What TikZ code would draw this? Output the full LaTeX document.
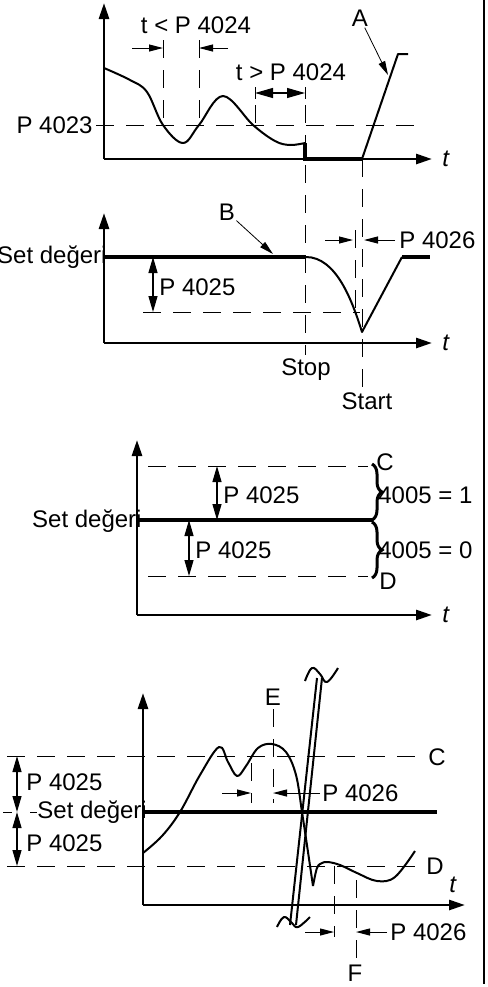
\documentclass[tikz,border=0pt]{standalone}
\usepackage{fontspec}
\setmainfont{Liberation Sans}
\usepackage{tikz}
\usetikzlibrary{arrows.meta,positioning,decorations.pathreplacing}

\begin{document}
\begin{tikzpicture}[x=0.5pt,y=-0.5pt,
 lbl/.style={inner sep=0.5pt,font=\fontsize{12}{14}\selectfont},
 ax/.style={line width=1.35pt,-{Triangle[length=8pt,width=5pt]}},
 dim/.style={line width=0.5pt,-{Triangle[length=7pt,width=3.5pt]}},
 bidim/.style={line width=0.6pt,{Triangle[length=8pt,width=4.5pt]}-{Triangle[length=8pt,width=4.5pt]}},
 ptr/.style={line width=0.4pt,-{Triangle[length=7pt,width=3.5pt]}},
 dsh/.style={line width=0.5pt,dash pattern=on 9pt off 6pt},
 crv/.style={line width=1pt,line join=round},
 sp/.style={line width=1.7pt},
 brc/.style={line width=1.5pt,decorate,decoration={brace,amplitude=5pt}}]
\useasboundingbox (0,0) rectangle (488,987);
\draw[line width=1pt] (483.5,0) -- (483.5,984);

% --- panel 1: sleep level
\coordinate (o1) at (104,159);
\draw[dsh] (96,125) -- (418,125);
\node[lbl,anchor=east] (p4023) at (94,125) {P 4023};
\draw[dsh] (163,40) -- (163,125); \draw[dsh] (199,40) -- (199,125);
\draw[dim] (132,48) -- (163,48); \draw[dim] (228,48) -- (199,48);
\node[lbl] (tlt) at (196,25) {t < P 4024};
\node[lbl] (tgt) at (291,72) {t > P 4024};
\draw[bidim,{Triangle[length=9pt,width=5pt]}-{Triangle[length=9pt,width=5pt]}] (255,93) -- (305,93);
\draw[line width=0.5pt] (255,87) -- (255,99) (305,87) -- (305,99);
\draw[dsh] (255,105) -- (255,128);
\draw[dsh] (305,105) -- (305,355);
\draw[dsh] (362,159) -- (362,388);
\draw[crv] plot[smooth,tension=0.6] coordinates {(104,68) (130,80) (147,92) (163,125) (183,143) (199,125) (223,96) (253,125) (275,141) (290,145) (305,143)};
\draw[sp] (305,143) -- (305,159) -- (362,159);
\draw[crv] (362,159) -- (398,54) -- (408,54);
\node[lbl] (lA) at (360,18) {A};
\coordinate (tA) at (388,75);
\draw[ptr] (lA) -- (tA);
\draw[ax] (o1) -- (104,3);
\draw[ax] (o1) -- (432,159);
\node[lbl] (t1) at (446,159) {\textit{t}};

% --- panel 2: wake up
\coordinate (o2) at (104,343);
\draw[dsh] (143,312) -- (360,312);
\draw[dsh] (355,230) -- (355,312);
\draw[sp] (104,257) -- (306,257);
\draw[crv] (306,257) .. controls (336,257) and (352,300) .. (362,332) -- (402,257);
\draw[sp] (402,257) -- (430,257);
\node[lbl,anchor=east] (sd2) at (108,257) {Set değeri};
\draw[bidim] (153,257) -- (153,312);
\node[lbl,anchor=west] (p25a) at (158,287) {P 4025};
\node[lbl] (lB) at (227,212) {B};
\coordinate (tB) at (273,254);
\draw[ptr] (lB) -- (tB);
\draw[dim] (325,240) -- (353,240); \draw[dim] (395,240) -- (364,240);
\node[lbl,anchor=west] (p26a) at (398,240) {P 4026};
\node[lbl] (stop) at (306,370) {Stop};
\node[lbl] (start) at (367,401) {Start};
\draw[ax] (o2) -- (104,213);
\draw[ax] (o2) -- (432,343);
\node[lbl] (t2) at (446,343) {\textit{t}};

% --- panel 3: 4005 selection
\coordinate (o3) at (137,615);
\draw[dsh] (148,466) -- (368,466);
\draw[dsh] (148,576) -- (368,576);
\draw[sp] (137,520) -- (373,520);
\node[lbl,anchor=east] (sd3) at (143,521) {Set değeri};
\draw[bidim] (217,466) -- (217,520);
\node[lbl,anchor=west] (p25b) at (222,495) {P 4025};
\draw[bidim] (189,520) -- (189,576);
\node[lbl,anchor=west] (p25c) at (194,550) {P 4025};
\draw[brc] (372,464) -- (372,520);
\draw[brc] (372,522) -- (372,578);
\node[lbl,anchor=west] (s1) at (377,495) {4005 = 1};
\node[lbl,anchor=west] (s0) at (377,550) {4005 = 0};
\node[lbl] (lC3) at (385,462) {C};
\node[lbl] (lD3) at (388,581) {D};
\draw[ax] (o3) -- (137,440);
\draw[ax] (o3) -- (432,615);
\node[lbl] (t3) at (446,615) {\textit{t}};

% --- panel 4: supervision
\coordinate (o4) at (143,905);
\draw[dsh] (7,756) -- (422,756);
\draw[dsh] (7,866) -- (422,866);
\draw[line width=0.5pt] (3,812) -- (12,812) (30,812) -- (37,812);
\node[lbl] (lC4) at (437,757) {C};
\node[lbl] (lD4) at (435,866) {D};
\draw[sp] (143,812) -- (437,812);
\draw[bidim] (17,756) -- (17,812);
\draw[bidim] (17,812) -- (17,866);
\node[lbl,anchor=west] (p25d) at (25,782) {P 4025};
\node[lbl,anchor=west] (p25e) at (25,843) {P 4025};
\node[lbl,anchor=west] (sd4) at (36,812) {Set değeri};
\draw[crv] plot[smooth,tension=0.6] coordinates {(143,853) (162,836) (180,812) (200,775) (219,747) (228,762) (237,776) (246,766) (258,748) (272,744) (286,752) (296,775) (302,812) (308,852) (313,886)};
\draw[crv] plot[smooth,tension=0.6] coordinates {(313,886) (317,868) (322,863) (328,862) (340,865) (357,873) (377,881) (395,877) (415,851)};
\node[lbl] (lE) at (273,697) {E};
\draw[dsh] (273,709) -- (273,803);
\draw[dsh] (251,763) -- (251,803);
\draw[dim] (222,793) -- (251,793); \draw[dim] (320,793) -- (273,793);
\node[lbl,anchor=west] (p26b) at (321,793) {P 4026};
\draw[crv] (317,678) -- (290,925);
\draw[crv] (322,678) -- (296,925);
\draw[crv] plot[smooth,tension=0.7] coordinates {(305,681) (312,668) (320,674) (327,682) (338,668)};
\draw[crv] plot[smooth,tension=0.7] coordinates {(277,927) (284,917) (292,923) (298,927) (310,917)};
\draw[dsh] (334,866) -- (334,937);
\draw[dsh] (356,880) -- (356,963);
\draw[dim] (305,932) -- (334,932); \draw[dim] (387,932) -- (356,932);
\node[lbl,anchor=west] (p26c) at (389,932) {P 4026};
\node[lbl] (lF) at (355,973) {F};
\draw[ax] (o4) -- (143,693);
\draw[ax] (o4) -- (465,905);
\node[lbl] (t4) at (453,885) {\textit{t}};
\end{tikzpicture}
\end{document}
